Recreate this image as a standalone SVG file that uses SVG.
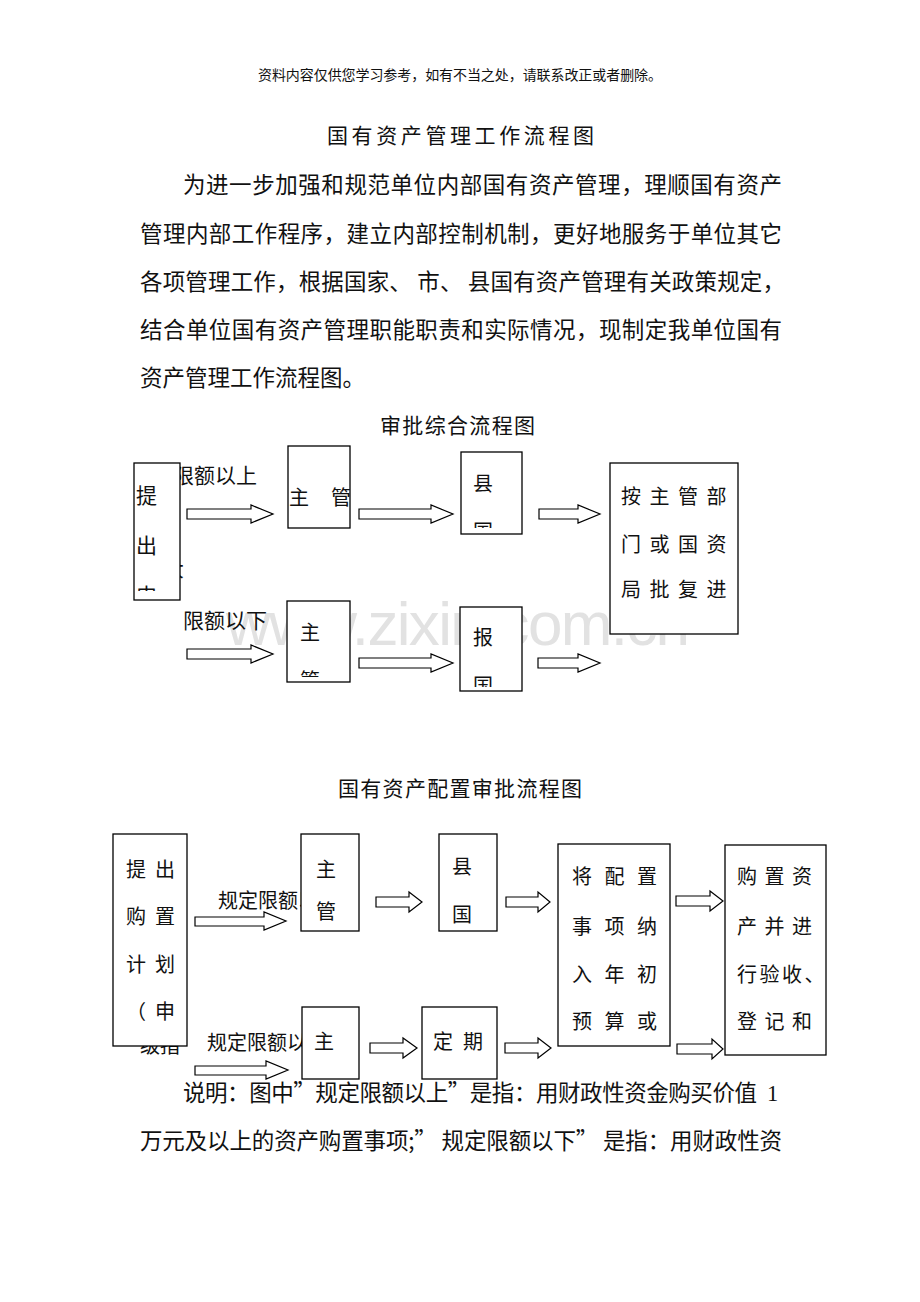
<svg xmlns="http://www.w3.org/2000/svg" width="920" height="1302" viewBox="0 0 920 1302">
<style>
text{font-family:"Noto Sans CJK SC","Noto Sans",sans-serif;fill:#111}
.hd{font-size:14px}
.t1{font-size:21px}
.p{font-size:22.5px}
.n{font-size:21px}
.s{font-size:20px}
.sr{font-family:"Liberation Serif","Noto Sans CJK SC",serif}
.box{fill:#fff;stroke:#000;stroke-width:1.3}
.arr{fill:#fff;stroke:#000;stroke-width:1.2}
.wm{font-family:"Liberation Sans",Arial,sans-serif;font-size:62px;fill:#e2e2e2}
</style>
<defs>
<clipPath id="c1"><rect x="134" y="463" width="46" height="128"/></clipPath>
<clipPath id="c2"><rect x="288" y="446" width="62" height="82"/></clipPath>
<clipPath id="c3"><rect x="461" y="452" width="61" height="76"/></clipPath>
<clipPath id="c5"><rect x="287" y="601" width="63" height="76"/></clipPath>
<clipPath id="c6"><rect x="460" y="607" width="62" height="80"/></clipPath>
</defs>
<rect width="920" height="1302" fill="#fff"/>

<g id="header">
<text class="hd" x="258" y="80" textLength="404">资料内容仅供您学习参考，如有不当之处，请联系改正或者删除。</text>
<text class="t1" x="327" y="143" textLength="267">国有资产管理工作流程图</text>
</g>
<g id="intro">
<text class="p" x="183" y="193" textLength="599">为进一步加强和规范单位内部国有资产管理，理顺国有资产</text>
<text class="p" x="140" y="242" textLength="642">管理内部工作程序，建立内部控制机制，更好地服务于单位其它</text>
<text class="p" x="140" y="290" textLength="645">各项管理工作，根据国家、 市、 县国有资产管理有关政策规定，</text>
<text class="p" x="140" y="338" textLength="642">结合单位国有资产管理职能职责和实际情况，现制定我单位国有</text>
<text class="p" x="140" y="386">资产管理工作流程图。</text>
</g>

<text id="title1" class="t1" x="380" y="433" textLength="155">审批综合流程图</text>

<text class="wm" x="226" y="645" textLength="464">www.zixin.com.cn</text>

<g id="labels1">
<text class="n" x="173" y="483">限额以上</text>
<text class="n" x="163" y="576">大</text>
<text class="n" x="183" y="628">限额以下</text>
</g>

<g id="n_tichu">
<rect class="box" x="134" y="463" width="46" height="137"/>
<g clip-path="url(#c1)">
<text class="n" x="136" y="503">提</text>
<text class="n" x="136" y="553">出</text>
<text class="n" x="136" y="603">申</text>
</g>
</g>
<g id="n_zhuguan1">
<rect class="box" x="288" y="446" width="62" height="82"/>
<g clip-path="url(#c2)">
<text class="s" x="289" y="505">主</text>
<text class="s" x="331" y="505">管</text>
</g>
</g>
<g id="n_xian1">
<rect class="box" x="461" y="452" width="61" height="82"/>
<g clip-path="url(#c3)">
<text class="s" x="473" y="491">县</text>
<text class="s" x="473" y="539">国</text>
</g>
</g>
<g id="n_pifu">
<rect class="box" x="610" y="463" width="128" height="171"/>
<text class="s" x="621" y="504" letter-spacing="8.5">按主管部</text>
<text class="s" x="621" y="552" letter-spacing="8.5">门或国资</text>
<text class="s" x="621" y="597" letter-spacing="8.5">局批复进</text>
</g>
<g id="n_zhu2">
<rect class="box" x="287" y="601" width="63" height="81"/>
<g clip-path="url(#c5)">
<text class="s" x="300" y="640">主</text>
<text class="s" x="300" y="688">管</text>
</g>
</g>
<g id="n_bao">
<rect class="box" x="460" y="607" width="62" height="84"/>
<g clip-path="url(#c6)">
<text class="s" x="473" y="645">报</text>
<text class="s" x="473" y="693">国</text>
</g>
</g>

<g id="connectors1">
<polygon class="arr" points="187,509 251,509 251,505 273,514 251,523 251,519 187,519"/>
<polygon class="arr" points="359,509 431,509 431,505 453,514 431,523 431,519 359,519"/>
<polygon class="arr" points="539,509 578,509 578,505 600,514 578,523 578,519 539,519"/>
<polygon class="arr" points="187,649 251,649 251,645 273,654 251,663 251,659 187,659"/>
<polygon class="arr" points="359,658 431,658 431,654 453,663 431,672 431,668 359,668"/>
<polygon class="arr" points="538,658 578,658 578,654 600,663 578,672 578,668 538,668"/>
</g>

<text id="title2" class="t1" x="338" y="796" textLength="244">国有资产配置审批流程图</text>

<g id="labels2">
<text class="s" x="218" y="908">规定限额以上</text>
<text class="s" x="207" y="1050">规定限额以下</text>
<text class="s" x="140" y="1053">级指</text>
</g>

<g id="n_tichu2">
<rect class="box" x="113" y="834" width="74" height="212"/>
<text class="s" x="126" y="877" letter-spacing="9">提出</text>
<text class="s" x="126" y="924" letter-spacing="9">购置</text>
<text class="s" x="126" y="972" letter-spacing="9">计划</text>
<text class="s" x="126" y="1019" letter-spacing="9">（申</text>
</g>
<g id="n_zhuguan2">
<rect class="box" x="301" y="834" width="58" height="97"/>
<text class="s" x="316" y="877">主</text>
<text class="s" x="316" y="919">管</text>
</g>
<g id="n_xian2">
<rect class="box" x="439" y="834" width="58" height="97"/>
<text class="s" x="452" y="874">县</text>
<text class="s" x="452" y="922">国</text>
</g>
<g id="n_yusuan">
<rect class="box" x="558" y="844" width="112" height="202"/>
<text class="s" x="572" y="884" letter-spacing="12.5">将配置</text>
<text class="s" x="572" y="934" letter-spacing="12.5">事项纳</text>
<text class="s" x="572" y="982" letter-spacing="12.5">入年初</text>
<text class="s" x="572" y="1029" letter-spacing="12.5">预算或</text>
</g>
<g id="n_yanshou">
<rect class="box" x="725" y="845" width="101" height="210"/>
<text class="s" x="737" y="884" letter-spacing="7.5">购置资</text>
<text class="s" x="737" y="934" letter-spacing="7.5">产并进</text>
<text class="s" x="737" y="982" letter-spacing="2.5">行验收、</text>
<text class="s" x="737" y="1029" letter-spacing="7.5">登记和</text>
</g>
<g id="n_zhu3">
<rect class="box" x="302" y="1007" width="57" height="72"/>
<text class="s" x="314" y="1049">主</text>
</g>
<g id="n_dingqi">
<rect class="box" x="422" y="1007" width="75" height="72"/>
<text class="s" x="433" y="1049" letter-spacing="10">定期</text>
</g>

<g id="connectors2">
<polygon class="arr" points="195,917 264,917 264,912 286,921 264,930 264,926 195,926"/>
<polygon class="arr" points="376,897 409,897 409,892 422,902 409,912 409,907 376,907"/>
<polygon class="arr" points="506,897 538,897 538,892 550,902 538,912 538,907 506,907"/>
<polygon class="arr" points="676,896 710,896 710,891 723,901 710,911 710,906 676,906"/>
<polygon class="arr" points="195,1066 266,1066 266,1061 288,1070 266,1079 266,1075 195,1075"/>
<polygon class="arr" points="370,1043 403,1043 403,1038 417,1048 403,1058 403,1053 370,1053"/>
<polygon class="arr" points="505,1043 538,1043 538,1038 551,1048 538,1058 538,1053 505,1053"/>
<polygon class="arr" points="677,1044 712,1044 712,1039 723,1049 712,1059 712,1054 677,1054"/>
</g>

<g id="note">
<text class="p" x="183" y="1101" textLength="574">说明：图中”规定限额以上”是指：用财政性资金购买价值</text>
<text class="p sr" x="767" y="1101">1</text>
<text class="p" x="140" y="1149" textLength="642">万元及以上的资产购置事项;” 规定限额以下” 是指：用财政性资</text>
</g>
</svg>
